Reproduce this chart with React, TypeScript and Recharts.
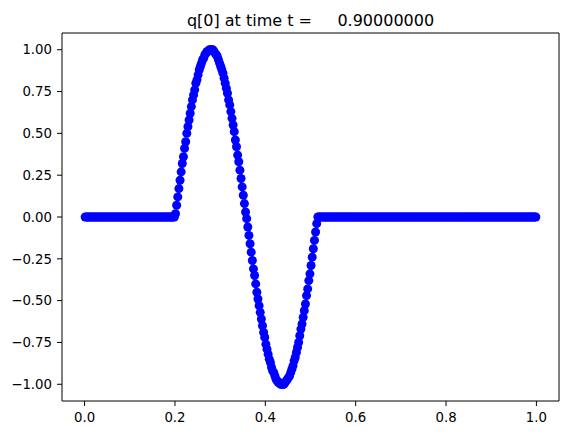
import React from 'react';
import { ScatterChart, Scatter, XAxis, YAxis, ReferenceLine } from 'recharts';

const title = 'q[0] at time t =     0.90000000';
const xTicks = [0, 0.2, 0.4, 0.6, 0.8, 1.0];
const yTicks = [-1, -0.75, -0.5, -0.25, 0, 0.25, 0.5, 0.75, 1];
const cellCount = 400;

const leadingZeros = [
  0, 0, 0, 0, 0, 0, 0, 0, 0, 0,
  0, 0, 0, 0, 0, 0, 0, 0, 0, 0,
  0, 0, 0, 0, 0, 0, 0, 0, 0, 0,
  0, 0, 0, 0, 0, 0, 0, 0, 0, 0,
  0, 0, 0, 0, 0, 0, 0, 0, 0, 0,
  0, 0, 0, 0, 0, 0, 0, 0, 0, 0,
  0, 0, 0, 0, 0, 0, 0, 0, 0, 0,
  0, 0, 0, 0, 0, 0, 0, 0, 0, 0,
];

const pulse = [
  0.02, 0.07, 0.12, 0.17, 0.22, 0.27, 0.32, 0.36, 0.41, 0.45,
  0.50, 0.54, 0.58, 0.62, 0.66, 0.70, 0.73, 0.76, 0.80, 0.82,
  0.85, 0.88, 0.90, 0.92, 0.94, 0.95, 0.97, 0.98, 0.99, 0.99,
  1.00, 1.00, 1.00, 1.00, 0.99, 0.98, 0.97, 0.96, 0.94, 0.92,
  0.90, 0.88, 0.86, 0.83, 0.80, 0.77, 0.74, 0.70, 0.67, 0.63,
  0.59, 0.55, 0.51, 0.46, 0.42, 0.37, 0.33, 0.28, 0.23, 0.18,
  0.13, 0.08, 0.03, -0.01, -0.06, -0.11, -0.16, -0.21, -0.26, -0.31,
  -0.35, -0.40, -0.45, -0.49, -0.53, -0.57, -0.61, -0.65, -0.69, -0.72,
  -0.76, -0.79, -0.82, -0.85, -0.87, -0.90, -0.92, -0.93, -0.95, -0.97,
  -0.98, -0.99, -0.99, -1.00, -1.00, -1.00, -1.00, -0.99, -0.98, -0.97,
  -0.96, -0.95, -0.93, -0.91, -0.89, -0.86, -0.84, -0.81, -0.78, -0.75,
  -0.71, -0.67, -0.64, -0.60, -0.56, -0.52, -0.47, -0.43, -0.38, -0.34,
  -0.29, -0.24, -0.19, -0.14, -0.09, -0.04,
];

const trailingZeros = [
  0, 0, 0, 0, 0, 0, 0, 0, 0, 0,
  0, 0, 0, 0, 0, 0, 0, 0, 0, 0,
  0, 0, 0, 0, 0, 0, 0, 0, 0, 0,
  0, 0, 0, 0, 0, 0, 0, 0, 0, 0,
  0, 0, 0, 0, 0, 0, 0, 0, 0, 0,
  0, 0, 0, 0, 0, 0, 0, 0, 0, 0,
  0, 0, 0, 0, 0, 0, 0, 0, 0, 0,
  0, 0, 0, 0, 0, 0, 0, 0, 0, 0,
  0, 0, 0, 0, 0, 0, 0, 0, 0, 0,
  0, 0, 0, 0, 0, 0, 0, 0, 0, 0,
  0, 0, 0, 0, 0, 0, 0, 0, 0, 0,
  0, 0, 0, 0, 0, 0, 0, 0, 0, 0,
  0, 0, 0, 0, 0, 0, 0, 0, 0, 0,
  0, 0, 0, 0, 0, 0, 0, 0, 0, 0,
  0, 0, 0, 0, 0, 0, 0, 0, 0, 0,
  0, 0, 0, 0, 0, 0, 0, 0, 0, 0,
  0, 0, 0, 0, 0, 0, 0, 0, 0, 0,
  0, 0, 0, 0, 0, 0, 0, 0, 0, 0,
  0, 0, 0, 0, 0, 0, 0, 0, 0, 0,
  0, 0, 0, 0,
];

const qValues = [...leadingZeros, ...pulse, ...trailingZeros];
const data = qValues.map((q, i) => ({ x: (i + 0.5) / cellCount, q }));

const xDomain: [number, number] = [-0.05, 1.05];
const yDomain: [number, number] = [-1.1, 1.1];

const FONT = 'DejaVu Sans';
const W = 568;
const H = 435;

const fmtY = (v: number) => v.toFixed(2).replace('-', '\u2212');
const fmtX = (v: number) => v.toFixed(1);

const Dot = (p: any) => <circle cx={p.cx} cy={p.cy} r={4.5} fill="#0000ff" />;

export default function App() {
  return (
    <div style={{ position: 'absolute', left: 0, top: 0, width: W, height: H, background: '#fff' }}>
      <ScatterChart width={W} height={H} margin={{ top: 33, right: 9, bottom: 0, left: 0 }}>
        <XAxis
          type="number"
          dataKey="x"
          domain={xDomain}
          ticks={xTicks}
          interval={0}
          tickFormatter={fmtX}
          height={34}
          tickSize={5}
          tickMargin={7}
          stroke="#000"
          tick={{ fill: '#000', fontSize: 13.3, fontFamily: FONT }}
          allowDataOverflow
        />
        <YAxis
          type="number"
          dataKey="q"
          domain={yDomain}
          ticks={yTicks}
          interval={0}
          tickFormatter={fmtY}
          width={62}
          tickSize={5}
          tickMargin={5}
          stroke="#000"
          tick={{ fill: '#000', fontSize: 13.3, fontFamily: FONT }}
          allowDataOverflow
        />
        <ReferenceLine y={yDomain[1]} stroke="#000" strokeWidth={1} ifOverflow="visible" />
        <ReferenceLine x={xDomain[1]} stroke="#000" strokeWidth={1} ifOverflow="visible" />
        <Scatter data={data} fill="#0000ff" shape={Dot} isAnimationActive={false} />
      </ScatterChart>
      <svg width={W} height={40} style={{ position: 'absolute', left: 0, top: 0, pointerEvents: 'none' }}>
        <text
          x={310.5}
          y={25.5}
          textAnchor="middle"
          fontFamily={FONT}
          fontSize={16}
          fill="#000"
          style={{ whiteSpace: 'pre' }}
        >
          {title}
        </text>
      </svg>
    </div>
  );
}
